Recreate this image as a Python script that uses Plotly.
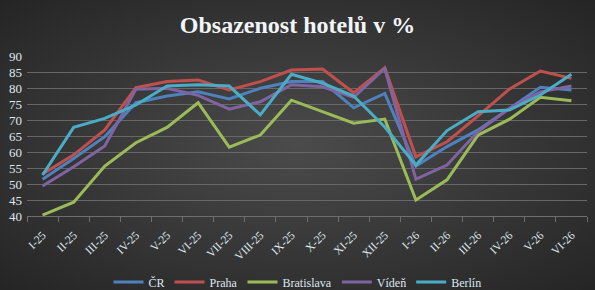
import base64
import plotly.graph_objects as go

months = ["I-25", "II-25", "III-25", "IV-25", "V-25", "VI-25", "VII-25", "VIII-25",
          "IX-25", "X-25", "XI-25", "XII-25", "I-26", "II-26", "III-26", "IV-26",
          "V-26", "VI-26"]

cr = [51.5, 58.0, 64.8, 75.4, 77.5, 78.8, 76.6, 79.9, 82.0, 82.0, 73.8, 78.3,
      55.6, 61.7, 66.9, 73.6, 80.2, 79.4]
praha = [53.1, 59.1, 66.9, 80.1, 82.0, 82.5, 79.4, 82.0, 85.6, 85.9, 78.5, 86.3,
         58.5, 63.2, 71.3, 79.6, 85.3, 83.0]
bratislava = [40.3, 44.3, 55.6, 62.9, 67.7, 75.4, 61.5, 65.3, 76.2, 72.6, 69.0, 70.3,
              45.0, 51.3, 65.3, 70.2, 77.1, 76.0]
viden = [49.4, 55.4, 61.9, 79.6, 79.9, 77.7, 73.4, 75.7, 81.0, 80.4, 77.1, 86.1,
         51.5, 55.9, 66.4, 73.6, 78.8, 80.6]
berlin = [52.8, 67.7, 70.5, 74.7, 80.6, 81.0, 80.6, 71.6, 84.3, 81.5, 77.5, 67.8,
          55.9, 66.7, 72.6, 73.1, 77.8, 84.3]

series = [("ČR", cr, "#4F81BD"), ("Praha", praha, "#C0504D"),
          ("Bratislava", bratislava, "#9BBB59"), ("Vídeň", viden, "#8064A2"),
          ("Berlín", berlin, "#4BACC6")]

W, H = 595, 290
ML, MR, MT, MB = 27, 8, 56, 74
PW, PH = W - ML - MR, H - MT - MB

serif = "Liberation Serif, DejaVu Serif, serif"
txt = "#dfe7f0"

fig = go.Figure()
for name, vals, col in series:
    fig.add_trace(go.Scatter(x=months, y=vals, name=name, mode="lines",
                             line=dict(color=col, width=3)))

svg = (f"<svg xmlns='http://www.w3.org/2000/svg' width='{W}' height='{H}' "
       f"viewBox='0 0 {W} {H}' preserveAspectRatio='none'>"
       "<defs><radialGradient id='g' cx='50%' cy='50%' r='72%'>"
       "<stop offset='0' stop-color='#4b4b4b'/><stop offset='1' stop-color='#242424'/>"
       "</radialGradient></defs>"
       f"<rect width='{W}' height='{H}' fill='url(#g)'/></svg>")
src = "data:image/svg+xml;base64," + base64.b64encode(svg.encode()).decode()
fig.add_layout_image(dict(source=src, xref="paper", yref="paper",
                          x=-ML / PW, y=1 + MT / PH, sizex=W / PW, sizey=H / PH,
                          xanchor="left", yanchor="top", sizing="stretch",
                          layer="below"))

fig.update_layout(
    width=W, height=H,
    margin=dict(l=ML, r=MR, t=MT, b=MB, autoexpand=False),
    paper_bgcolor="#383838", plot_bgcolor="rgba(0,0,0,0)",
    title=dict(text="<b>Obsazenost hotelů v %</b>", x=0.5, xanchor="center",
               xref="container", yref="container",
               y=1 - 25 / H, yanchor="middle",
               font=dict(family=serif, size=24, color="#f2f5f8")),
    showlegend=True,
    legend=dict(orientation="h", x=0.5, xanchor="center", xref="container",
                yref="container", y=1 - 282 / H, yanchor="middle",
                font=dict(family=serif, size=12, color=txt),
                bgcolor="rgba(0,0,0,0)", itemwidth=30, tracegroupgap=0),
    xaxis=dict(type="category", tickangle=-45, tickson="boundaries",
               ticks="outside", ticklen=5, tickcolor="#6e6e6e",
               showline=True, linecolor="#6e6e6e", linewidth=1,
               showgrid=False, automargin=False, ticklabelstandoff=7,
               tickfont=dict(family=serif, size=11.5, color=txt),
               range=[-0.5, len(months) - 0.5]),
    yaxis=dict(range=[40, 90], dtick=5, showgrid=True, gridcolor="#676767",
               gridwidth=1, zeroline=False, showline=False, ticks="",
               automargin=False, ticklabelstandoff=4,
               tickfont=dict(family=serif, size=13, color=txt)),
)

fig.write_html("out.html")
